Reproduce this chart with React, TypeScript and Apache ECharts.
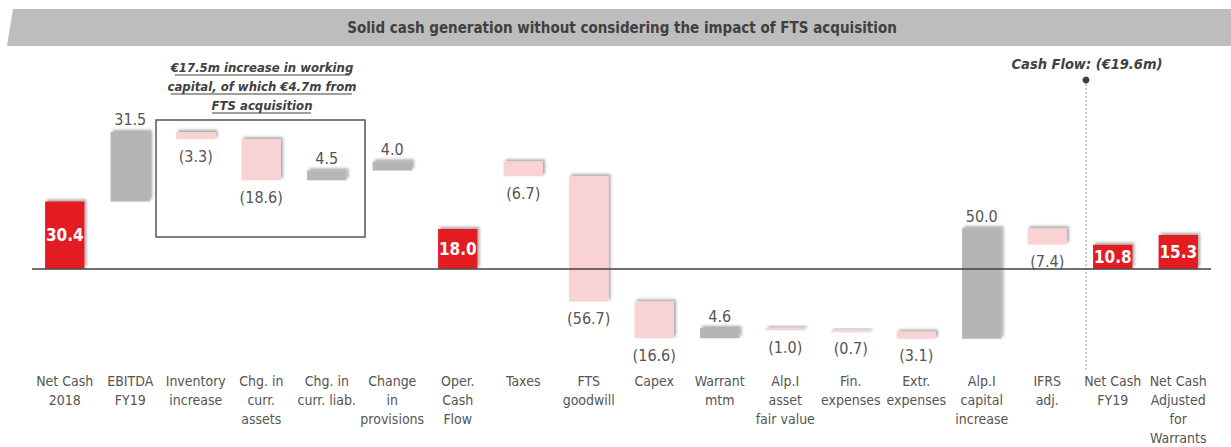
import React, { useEffect, useRef } from "react";
import * as echarts from "echarts";

const categories = [
  "Net Cash\n2018", "EBITDA\nFY19", "Inventory\nincrease", "Chg. in\ncurr.\nassets",
  "Chg. in\ncurr. liab.", "Change\nin\nprovisions", "Oper.\nCash\nFlow", "Taxes",
  "FTS\ngoodwill", "Capex", "Warrant\nmtm", "Alp.I\nasset\nfair value", "Fin.\nexpenses",
  "Extr.\nexpenses", "Alp.I\ncapital\nincrease", "IFRS\nadj.", "Net Cash\nFY19",
  "Net Cash\nAdjusted\nfor\nWarrants",
];
const values = [30.4, 31.5, -3.3, -18.6, 4.5, 4.0, 18.0, -6.7, -56.7, -16.6, 4.6, -1.0, -0.7, -3.1, 50.0, -7.4, 10.8, 15.3];
const kinds = ["total", "delta", "delta", "delta", "delta", "delta", "total", "delta", "delta", "delta", "delta", "delta", "delta", "delta", "delta", "delta", "total", "total"];

const TITLE = "Solid cash generation without considering the impact of FTS acquisition";
const NOTE_LINES = ["€17.5m increase in working", "capital, of which €4.7m from", "FTS acquisition"];
const CASH_FLOW_NOTE = "Cash Flow: (€19.6m)";

const RED = "#E31B23";
const GRAY = "#B5B5B5";
const PINK = "#F9D2D4";
const TEXT = "#555555";
const NARROW = "'Liberation Sans Narrow', 'DejaVu Sans Condensed', Roboto, sans-serif";

function buildData() {
  let running = 0;
  return values.map((v, i) => {
    const k = kinds[i];
    let lo: number, hi: number;
    if (k === "total") {
      lo = 0;
      hi = v;
      if (i === 0) running = v;
    } else {
      lo = running;
      hi = running + v;
      running += v;
    }
    return [i, Math.min(lo, hi), Math.max(lo, hi), v, k === "total" ? 0 : v >= 0 ? 1 : 2];
  });
}

const fmt = (v: number) => (v < 0 ? `(${Math.abs(v).toFixed(1)})` : v.toFixed(1));

export default function App() {
  const ref = useRef<HTMLDivElement>(null);
  useEffect(() => {
    if (!ref.current) return;
    const chart = echarts.init(ref.current, null, { renderer: "svg" });
    const data = buildData();
    const noteY = [67, 86, 105];
    const noteUnder = [[175, 350], [171, 352], [212, 311]];
    const graphic: any[] = [
      {
        type: "polygon",
        shape: { points: [[13, 9], [1231, 9], [1231, 46], [7, 46]] },
        style: { fill: "#BDBDBD" },
        z: 0,
      },
      {
        type: "text",
        x: 622,
        y: 28,
        style: {
          text: TITLE,
          fill: "#404040",
          font: `bold 15px ${NARROW}`,
          align: "center",
          verticalAlign: "middle",
        },
      },
      {
        type: "rect",
        shape: { x: 156, y: 120, width: 209, height: 117 },
        style: { fill: "none", stroke: "#555", lineWidth: 1.5 },
        z: 1,
      },
      ...NOTE_LINES.map((t, i) => ({
        type: "text",
        x: 262,
        y: noteY[i],
        style: {
          text: t,
          fill: "#404040",
          font: `italic bold 13px ${NARROW}`,
          align: "center",
          verticalAlign: "middle",
        },
      })),
      ...noteUnder.map((u, i) => ({
        type: "line",
        shape: { x1: u[0], y1: noteY[i] + 8, x2: u[1], y2: noteY[i] + 8 },
        style: { stroke: "#404040", lineWidth: 1 },
      })),
      {
        type: "text",
        x: 1087,
        y: 64,
        style: {
          text: CASH_FLOW_NOTE,
          fill: "#404040",
          font: `italic bold 14.5px ${NARROW}`,
          align: "center",
          verticalAlign: "middle",
        },
      },
      {
        type: "line",
        shape: { x1: 1086, y1: 80, x2: 1086, y2: 372 },
        style: { stroke: "#999", lineWidth: 1, lineDash: [2, 2] },
      },
      {
        type: "circle",
        shape: { cx: 1086, cy: 80, r: 3.5 },
        style: { fill: "#404040" },
      },
    ];

    chart.setOption({
      animation: false,
      grid: { left: 32, right: 20, top: 92, bottom: 88 },
      xAxis: {
        type: "category",
        data: categories,
        axisLine: { show: false },
        axisTick: { show: false },
        axisLabel: {
          interval: 0,
          margin: 14,
          fontSize: 14,
          lineHeight: 19,
          color: TEXT,
          fontFamily: NARROW,
          verticalAlign: "top",
        },
      },
      yAxis: { type: "value", min: -40, max: 80, show: false, splitLine: { show: false } },
      graphic,
      series: [
        {
          type: "custom",
          data,
          encode: { x: 0, y: [1, 2] },
          renderItem: (params: any, api: any) => {
            const i = api.value(0);
            const lo = api.value(1);
            const hi = api.value(2);
            const v = api.value(3);
            const kind = api.value(4);
            const top = api.coord([i, hi]);
            const bot = api.coord([i, lo]);
            const w = api.size([1, 0])[0] * 0.6;
            const fill = kind === 0 ? RED : kind === 1 ? GRAY : PINK;
            const children: any[] = [
              {
                type: "rect",
                shape: { x: top[0] - w / 2, y: top[1], width: w, height: Math.max(bot[1] - top[1], 2) },
                style: {
                  fill,
                  shadowBlur: 3,
                  shadowOffsetX: 2,
                  shadowOffsetY: -2,
                  shadowColor: "rgba(0,0,0,0.35)",
                },
              },
            ];
            const tx = top[0];
            let ty: number;
            let font: string;
            let color: string;
            if (kind === 0) {
              ty = (top[1] + bot[1]) / 2;
              font = `bold 17px ${NARROW}`;
              color = "#ffffff";
            } else if (kind === 1) {
              ty = top[1] - 12;
              font = `16px ${NARROW}`;
              color = TEXT;
            } else {
              ty = bot[1] + 17;
              font = `16px ${NARROW}`;
              color = TEXT;
            }
            children.push({
              type: "text",
              style: { text: fmt(v), x: tx, y: ty, fill: color, font, align: "center", verticalAlign: "middle" },
            });
            return { type: "group", children };
          },
          markLine: {
            silent: true,
            symbol: "none",
            label: { show: false },
            lineStyle: { color: "#404040", width: 1.5, type: "solid" },
            data: [{ yAxis: 0 }],
          },
        },
      ],
    });
    return () => chart.dispose();
  }, []);
  return <div ref={ref} style={{ position: "fixed", left: 0, top: 0, width: 1231, height: 447, background: "#fff" }} />;
}
